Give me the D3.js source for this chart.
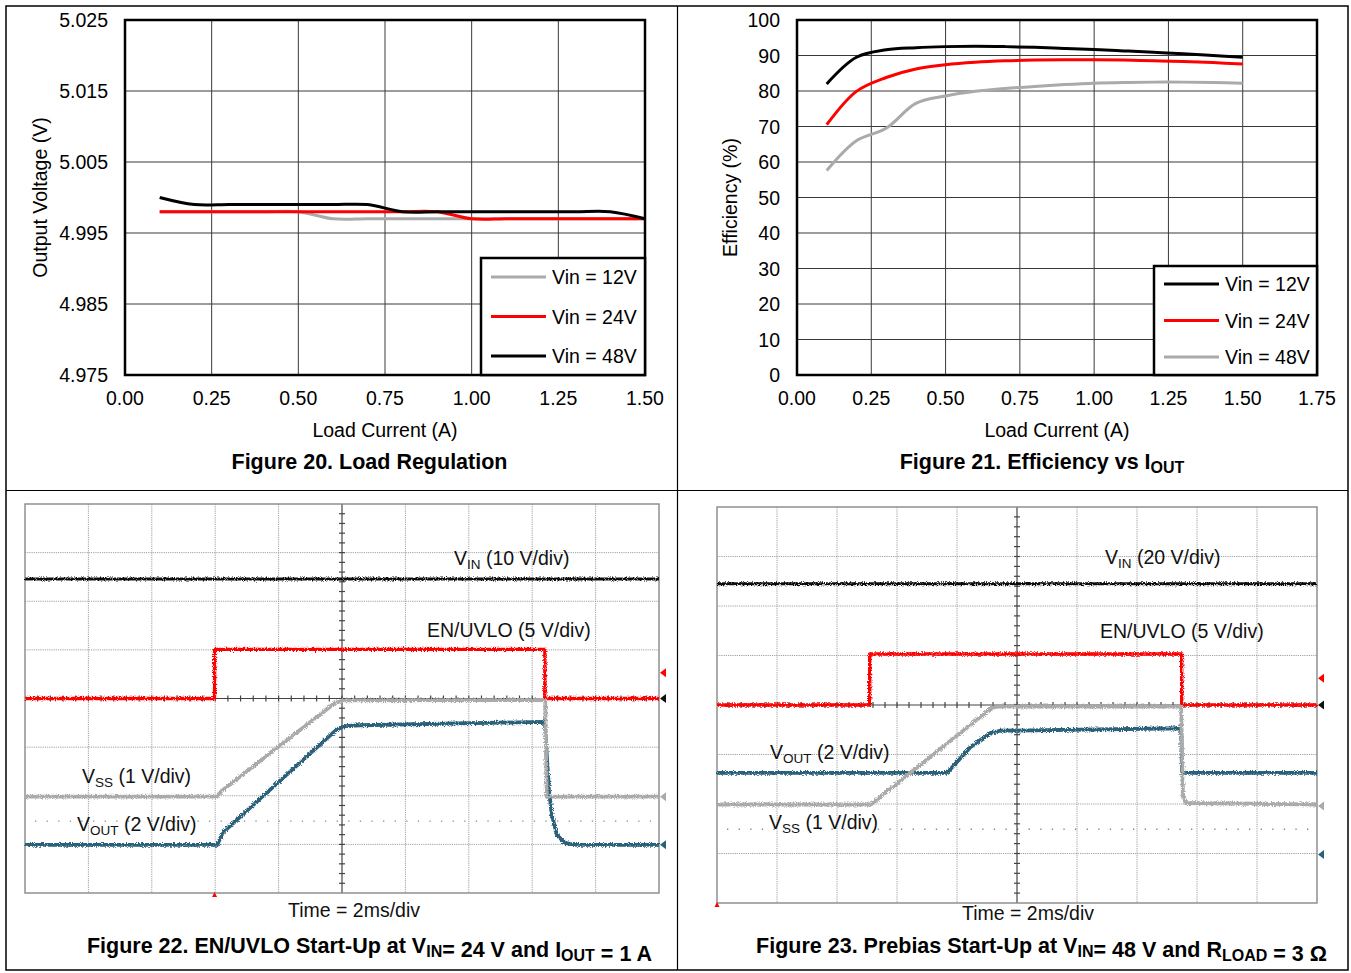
<!DOCTYPE html>
<html>
<head>
<meta charset="utf-8">
<script src="https://cdn.jsdelivr.net/npm/d3@7"></script>
<style>
  body { margin: 0; background: #fff; }
  text { font-family: "Liberation Sans", Arial, sans-serif; }
</style>
</head>
<body>
<script>
// ---------- data ----------
// Figure 20: load regulation
const loadCurrent = [0.1, 0.2, 0.3, 0.4, 0.5, 0.6, 0.7, 0.8, 0.9, 1.0, 1.1, 1.2, 1.3, 1.4, 1.5];
const vout12 = [4.998, 4.998, 4.998, 4.998, 4.998, 4.997, 4.997, 4.997, 4.997, 4.997, 4.997, 4.997, 4.997, 4.997, 4.997];
const vout24 = [4.998, 4.998, 4.998, 4.998, 4.998, 4.998, 4.998, 4.998, 4.998, 4.997, 4.997, 4.997, 4.997, 4.997, 4.997];
const vout48 = [5.000, 4.999, 4.999, 4.999, 4.999, 4.999, 4.999, 4.998, 4.998, 4.998, 4.998, 4.998, 4.998, 4.998, 4.997];
const voutTicks = [4.975, 4.985, 4.995, 5.005, 5.015, 5.025];
const regTicks = [0, 0.25, 0.5, 0.75, 1.0, 1.25, 1.5];

// Figure 21: efficiency
const eff12 = [82.0, 89.5, 91.6, 92.2, 92.5, 92.6, 92.5, 92.3, 92.0, 91.7, 91.3, 90.9, 90.5, 90.0, 89.5];
const eff24 = [70.5, 79.9, 83.8, 86.2, 87.4, 88.1, 88.5, 88.7, 88.8, 88.8, 88.7, 88.5, 88.3, 88.0, 87.6];
const eff48 = [57.6, 66.0, 69.5, 76.5, 78.6, 79.9, 80.7, 81.3, 81.8, 82.2, 82.4, 82.5, 82.5, 82.4, 82.2];
const effTicks = [0, 10, 20, 30, 40, 50, 60, 70, 80, 90, 100];
const effXTicks = [0, 0.25, 0.5, 0.75, 1.0, 1.25, 1.5, 1.75];

// Figure 22 scope traces: [time ms, divisions from centre]
const vin22 = [[-10, 2.46], [10, 2.46]];
const en22 = [[-10, 0], [-4.02, 0], [-4.02, 1.01], [6.4, 1.01], [6.4, 0], [10, 0]];
const vss22 = [[-10, -2.02], [-3.95, -2.02], [-3.8, -1.9], [-0.22, -0.09], [0.09, -0.04], [6.41, -0.03], [6.46, -2.02], [10, -2.02]];
const vo22 = [[-10, -3.01], [-3.94, -3.01], [-3.75, -2.75], [-0.19, -0.65], [0.09, -0.57], [0.57, -0.55], [6.4, -0.48],
  [6.45, -1.06], [6.53, -1.88], [6.62, -2.4], [6.78, -2.81], [7.03, -2.97], [7.35, -3.01], [10, -3.01]];
const marks22 = [0.53, 0, -2.02, -3.01];
const trig22 = -4.02;

// Figure 23 scope traces
const vin23 = [[-10, 2.45], [10, 2.45]];
const en23 = [[-10, 0], [-4.91, 0], [-4.91, 1.03], [5.49, 1.03], [5.49, 0], [10, 0]];
const vss23 = [[-10, -2.01], [-4.87, -2.01], [-0.85, -0.06], [-0.57, -0.03], [5.47, -0.03], [5.53, -1.82], [5.63, -1.98], [10, -2.01]];
const vo23 = [[-10, -1.37], [-2.33, -1.37], [-1.53, -0.84], [-0.9, -0.57], [-0.57, -0.52], [5.47, -0.47], [5.5, -1.37], [10, -1.37]];
const marks23 = [0.54, 0, -2.04, -3.02];
const trig23 = -10;

const traceColors = { vin: "#111", en: "#ff0000", vss: "#aaaaaa", vout: "#2a6079" };
const traceWidths = { vin: 3, en: 3.4, vss: 3.8, vout: 3.8 };

// ---------- page ----------
const W = 1351, H = 973;
const FS = 19.5;
const svg = d3.select("body").append("svg").attr("width", W).attr("height", H);

const defs = svg.append("defs");
const f = defs.append("filter").attr("id", "noise")
  .attr("filterUnits", "userSpaceOnUse").attr("x", 0).attr("y", 0).attr("width", W).attr("height", H);
f.append("feTurbulence").attr("type", "fractalNoise").attr("baseFrequency", "0.9 0.9")
  .attr("numOctaves", 2).attr("seed", 4).attr("result", "t");
f.append("feDisplacementMap").attr("in", "SourceGraphic").attr("in2", "t")
  .attr("scale", 4.5).attr("xChannelSelector", "R").attr("yChannelSelector", "G");

// frame
svg.append("rect").attr("x", 6).attr("y", 6).attr("width", 1342).attr("height", 964)
  .attr("fill", "none").attr("stroke", "#000").attr("stroke-width", 1.5);
svg.append("line").attr("x1", 677.5).attr("x2", 677.5).attr("y1", 6).attr("y2", 970)
  .attr("stroke", "#000").attr("stroke-width", 1.2);
svg.append("line").attr("x1", 6).attr("x2", 1348).attr("y1", 490.5).attr("y2", 490.5)
  .attr("stroke", "#000").attr("stroke-width", 1.2);

// ---------- XY charts ----------
function xyChart(c) {
  const g = svg.append("g");
  const x = d3.scaleLinear().domain(c.xDomain).range([c.left, c.right]);
  const y = d3.scaleLinear().domain(c.yDomain).range([c.bottom, c.top]);

  // grid
  g.selectAll(".vg").data(c.xTicks).enter().append("line")
    .attr("x1", d => x(d)).attr("x2", d => x(d)).attr("y1", c.top).attr("y2", c.bottom)
    .attr("stroke", "#3a3a3a").attr("stroke-width", 1);
  g.selectAll(".hg").data(c.yTicks).enter().append("line")
    .attr("x1", c.left).attr("x2", c.right).attr("y1", d => y(d)).attr("y2", d => y(d))
    .attr("stroke", "#3a3a3a").attr("stroke-width", 1);

  // tick labels
  g.selectAll(".xl").data(c.xTicks).enter().append("text")
    .attr("x", d => x(d)).attr("y", c.bottom + 30).attr("text-anchor", "middle")
    .attr("font-size", FS).text(d3.format(".2f"));
  g.selectAll(".yl").data(c.yTicks).enter().append("text")
    .attr("x", c.left - 17).attr("y", d => y(d) + 7).attr("text-anchor", "end")
    .attr("font-size", FS).text(c.yFmt);

  // series
  const line = d3.line().x(d => x(d[0])).y(d => y(d[1])).curve(d3.curveCatmullRom.alpha(0.5));
  c.series.forEach(s => {
    g.append("path").datum(loadCurrent.map((v, i) => [v, s.values[i]]))
      .attr("d", line).attr("fill", "none").attr("stroke", s.color).attr("stroke-width", 3);
  });

  // plot border
  g.append("rect").attr("x", c.left).attr("y", c.top)
    .attr("width", c.right - c.left).attr("height", c.bottom - c.top)
    .attr("fill", "none").attr("stroke", "#000").attr("stroke-width", 2.5);

  // legend
  const lx = c.right - c.legW, ly = c.bottom - c.legH;
  g.append("rect").attr("x", lx).attr("y", ly).attr("width", c.legW).attr("height", c.legH)
    .attr("fill", "#fff").attr("stroke", "#000").attr("stroke-width", 2.5);
  c.legend.forEach((s, i) => {
    const yy = ly + c.legRow0 + i * c.legStep;
    g.append("line").attr("x1", lx + 10).attr("x2", lx + 65).attr("y1", yy).attr("y2", yy)
      .attr("stroke", s.color).attr("stroke-width", 3);
    g.append("text").attr("x", lx + 71).attr("y", yy + 7).attr("font-size", FS).text(s.name);
  });

  // titles
  g.append("text").attr("x", (c.left + c.right) / 2).attr("y", c.bottom + 62)
    .attr("text-anchor", "middle").attr("font-size", FS).text("Load Current (A)");
  g.append("text").attr("transform", `translate(${c.yTitleX},${(c.top + c.bottom) / 2}) rotate(-90)`)
    .attr("text-anchor", "middle").attr("font-size", FS).text(c.yTitle);
  return g;
}

const s12 = "Vin = 12V", s24 = "Vin = 24V", s48 = "Vin = 48V";
const g20 = xyChart({
  left: 125, right: 645, top: 20, bottom: 375,
  xDomain: [0, 1.5], xTicks: regTicks,
  yDomain: [4.975, 5.025], yTicks: voutTicks, yFmt: d3.format(".3f"),
  series: [
    { color: "#aaaaaa", values: vout12 },
    { color: "#ff0000", values: vout24 },
    { color: "#000", values: vout48 }
  ],
  legend: [{ name: s12, color: "#aaaaaa" }, { name: s24, color: "#ff0000" }, { name: s48, color: "#000" }],
  legW: 164, legH: 117, legRow0: 19, legStep: 39.5,
  yTitle: "Output Voltage (V)", yTitleX: 47
});
const g21 = xyChart({
  left: 797, right: 1317, top: 20, bottom: 375,
  xDomain: [0, 1.75], xTicks: effXTicks,
  yDomain: [0, 100], yTicks: effTicks, yFmt: d3.format("d"),
  series: [
    { color: "#aaaaaa", values: eff48 },
    { color: "#ff0000", values: eff24 },
    { color: "#000", values: eff12 }
  ],
  legend: [{ name: s12, color: "#000" }, { name: s24, color: "#ff0000" }, { name: s48, color: "#aaaaaa" }],
  legW: 163, legH: 109, legRow0: 18, legStep: 36.5,
  yTitle: "Efficiency (%)", yTitleX: 737
});

// ---------- captions ----------
function caption(cx, y, parts) {
  const t = svg.append("text").attr("x", cx).attr("y", y).attr("text-anchor", "middle")
    .attr("font-size", 21.5).attr("font-weight", "bold");
  parts.forEach(p => {
    if (p.sub) {
      t.append("tspan").attr("font-size", 16).attr("dy", 4).text(p.sub);
      t.append("tspan").attr("font-size", 21.5).attr("dy", -4).text("");
    } else {
      t.append("tspan").text(p.t);
    }
  });
}
caption(369.5, 469, [{ t: "Figure 20. Load Regulation" }]);
caption(1042, 469, [{ t: "Figure 21. Efficiency vs I" }, { sub: "OUT" }]);
caption(369.5, 953, [{ t: "Figure 22. EN/UVLO Start-Up at V" }, { sub: "IN" }, { t: "= 24 V and I" }, { sub: "OUT" }, { t: " = 1 A" }]);
caption(1041.5, 953, [{ t: "Figure 23. Prebias Start-Up at V" }, { sub: "IN" }, { t: "= 48 V and R" }, { sub: "LOAD" }, { t: " = 3 Ω" }]);

// ---------- scope screens ----------
function scope(c) {
  const g = svg.append("g");
  const x = d3.scaleLinear().domain([-10, 10]).range([c.left, c.right]);
  const y = d3.scaleLinear().domain([-4, 4]).range([c.bottom, c.top]);

  const vt = d3.range(-8, 9, 2).filter(d => d !== 0);
  const ht = d3.range(-3, 4, 1).filter(d => d !== 0);
  g.selectAll(".vg").data(vt).enter().append("line")
    .attr("x1", d => x(d)).attr("x2", d => x(d)).attr("y1", c.top).attr("y2", c.bottom)
    .attr("stroke", "#a0a0a0").attr("stroke-width", 1).attr("stroke-dasharray", "1.2 1");
  g.selectAll(".hg").data(ht).enter().append("line")
    .attr("x1", c.left).attr("x2", c.right).attr("y1", d => y(d)).attr("y2", d => y(d))
    .attr("stroke", "#a0a0a0").attr("stroke-width", 1).attr("stroke-dasharray", "1.2 1");

  // dotted reference level
  g.append("line").attr("x1", c.left + 10).attr("x2", c.right - 8)
    .attr("y1", y(c.refLevel)).attr("y2", y(c.refLevel))
    .attr("stroke", "#888").attr("stroke-width", 1.3).attr("stroke-dasharray", "1.3 10.3");

  // centre axes with minor ticks
  g.append("line").attr("x1", x(0)).attr("x2", x(0)).attr("y1", c.top).attr("y2", c.bottom)
    .attr("stroke", "#444").attr("stroke-width", 1.2);
  g.append("line").attr("x1", c.left).attr("x2", c.right).attr("y1", y(0)).attr("y2", y(0))
    .attr("stroke", "#444").attr("stroke-width", 1.2);
  g.selectAll(".tx").data(d3.range(-9.6, 9.7, 0.4)).enter().append("line")
    .attr("x1", d => x(d)).attr("x2", d => x(d)).attr("y1", y(0) - 3).attr("y2", y(0) + 3)
    .attr("stroke", "#444").attr("stroke-width", 1.2);
  g.selectAll(".ty").data(d3.range(-3.8, 3.9, 0.2)).enter().append("line")
    .attr("x1", x(0) - 3).attr("x2", x(0) + 3).attr("y1", d => y(d)).attr("y2", d => y(d))
    .attr("stroke", "#444").attr("stroke-width", 1.2);

  // border
  g.append("rect").attr("x", c.left).attr("y", c.top)
    .attr("width", c.right - c.left).attr("height", c.bottom - c.top)
    .attr("fill", "none").attr("stroke", "#888").attr("stroke-width", 1.4);

  // traces
  const line = d3.line().x(d => x(d[0])).y(d => y(d[1]));
  const tg = g.append("g").attr("filter", "url(#noise)");
  [["vin", c.vin], ["en", c.en], ["vout", c.vout], ["vss", c.vss]].forEach(([k, data]) => {
    tg.append("path").datum(data).attr("d", line).attr("fill", "none")
      .attr("stroke", traceColors[k]).attr("stroke-width", traceWidths[k]).attr("stroke-linejoin", "round");
  });

  // channel markers on the right edge
  const mc = [traceColors.en, "#111", traceColors.vss, traceColors.vout];
  g.selectAll(".mk").data(c.marks).enter().append("path")
    .attr("d", (d, i) => `M${c.right + 1},${y(d)} l6,-4.5 v9 z`)
    .attr("fill", (d, i) => mc[i]);
  // trigger marker
  g.append("path").attr("d", `M${x(c.trig)},${c.bottom - 1} l-2.5,5 h5 z`).attr("fill", traceColors.en);

  // labels
  c.labels.forEach(l => {
    const t = g.append("text").attr("x", l.x).attr("y", l.y).attr("font-size", FS).attr("fill", "#111");
    t.append("tspan").text(l.main);
    if (l.sub) {
      t.append("tspan").attr("font-size", 13.5).attr("dy", 4).text(l.sub);
      t.append("tspan").attr("dy", -4).text(l.rest);
    }
  });
  g.append("text").attr("x", c.timeX).attr("y", c.timeY).attr("text-anchor", "middle")
    .attr("font-size", FS).attr("fill", "#111").text("Time = 2ms/div");
  return g;
}

scope({
  left: 25, right: 659, top: 504, bottom: 893,
  vin: vin22, en: en22, vss: vss22, vout: vo22, marks: marks22, trig: trig22, refLevel: -2.52,
  labels: [
    { x: 454, y: 565, main: "V", sub: "IN", rest: " (10 V/div)" },
    { x: 427, y: 637, main: "EN/UVLO (5 V/div)" },
    { x: 82, y: 783, main: "V", sub: "SS", rest: " (1 V/div)" },
    { x: 77, y: 831, main: "V", sub: "OUT", rest: " (2 V/div)" }
  ],
  timeX: 354, timeY: 917
});

scope({
  left: 717, right: 1317, top: 507, bottom: 903,
  vin: vin23, en: en23, vss: vss23, vout: vo23, marks: marks23, trig: trig23, refLevel: -2.51,
  labels: [
    { x: 1105, y: 564, main: "V", sub: "IN", rest: " (20 V/div)" },
    { x: 1100, y: 638, main: "EN/UVLO (5 V/div)" },
    { x: 770, y: 759, main: "V", sub: "OUT", rest: " (2 V/div)" },
    { x: 769, y: 829, main: "V", sub: "SS", rest: " (1 V/div)" }
  ],
  timeX: 1028, timeY: 920
});
</script>
</body>
</html>
